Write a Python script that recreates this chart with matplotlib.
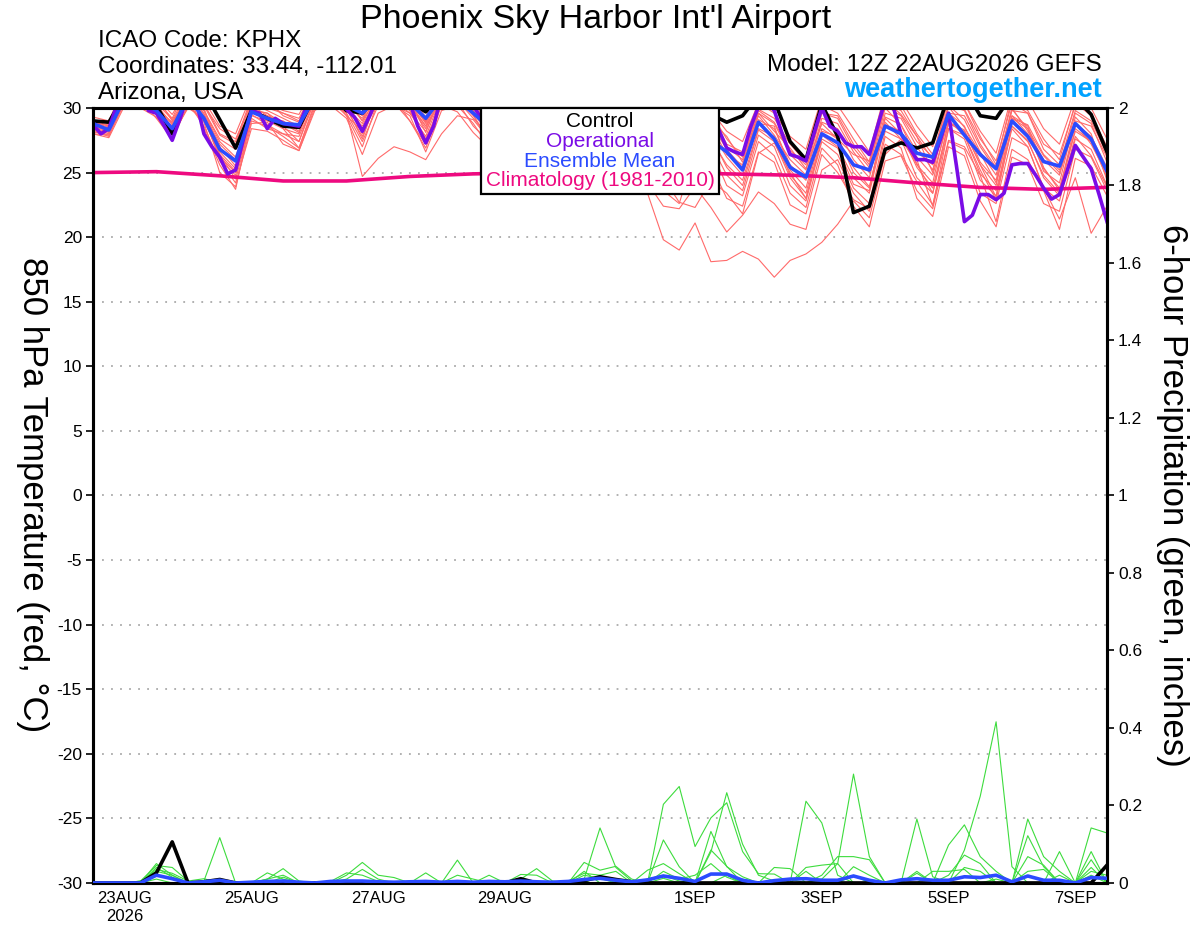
import numpy as np
import pandas as pd
import matplotlib
matplotlib.use('Agg')
import matplotlib.pyplot as plt
from matplotlib.offsetbox import AnchoredOffsetbox, TextArea, VPacker

plt.rcParams['font.family'] = ['Liberation Sans', 'DejaVu Sans']
plt.rcParams['axes.unicode_minus'] = False

# GEFS run 12Z 22AUG2026, members 6-hourly, operational 3-hourly
times6 = pd.date_range('2026-08-22 12:00', periods=65, freq='6h').to_pydatetime()
times3 = pd.date_range('2026-08-22 12:00', periods=129, freq='3h').to_pydatetime()
clim_days = pd.date_range('2026-08-22 12:00', periods=17, freq='D').to_pydatetime()

tick_days = pd.to_datetime(['2026-08-23', '2026-08-25', '2026-08-27', '2026-08-29',
                            '2026-09-01', '2026-09-03', '2026-09-05', '2026-09-07']).to_pydatetime()
tick_labels = ['23AUG\n2026', '25AUG', '27AUG', '29AUG', '1SEP', '3SEP', '5SEP', '7SEP']

# 850 hPa temperature (C)
ctl_temp = [29.0,
            28.9, 31.0, 31.0, 30.2, 28.0, 31.0, 31.3, 29.1, 26.9, 29.8, 29.2, 28.6,
            28.5, 31.0, 31.0, 29.8, 29.6, 31.0, 31.0, 30.5, 29.7, 31.0, 31.0, 30.5,
            29.5, 30.8, 29.5, 28.8, 29.0, 30.5, 29.8, 28.5, 29.0, 30.5, 29.5, 28.5,
            29.0, 30.5, 29.5, 28.9, 29.4, 31.0, 30.6, 27.4, 26.0, 30.3, 27.8, 21.9,
            22.4, 26.8, 27.3, 26.9, 27.3, 31.0, 31.5, 29.4, 29.2, 31.0, 31.5, 31.5,
            31.0, 30.8, 29.5, 26.6]
mean_temp = [28.8,
             28.3, 30.8, 30.6, 29.8, 28.4, 30.8, 29.2, 26.8, 25.9, 29.7, 29.2, 28.8,
             28.7, 30.8, 30.8, 30.2, 29.6, 30.8, 30.8, 30.4, 29.2, 30.8, 30.6, 29.6,
             28.5, 29.5, 28.8, 28.0, 28.2, 29.3, 28.6, 27.8, 28.0, 29.0, 28.3, 27.2,
             27.5, 28.8, 27.5, 26.6, 25.2, 28.9, 27.6, 25.4, 24.65, 28.0, 27.3, 25.6,
             25.2, 28.6, 28.0, 26.5, 26.2, 29.5, 27.9, 26.4, 25.3, 29.0, 27.8, 25.85,
             25.5, 28.8, 27.6, 25.1]
op_temp = [28.7, 28.0, 28.4, 30.2, 31.0, 31.2, 31.0, 29.8, 29.6, 28.6,
           27.5, 29.2, 31.0, 30.6, 28.0, 27.0, 26.2, 24.9, 25.2, 27.6,
           29.8, 29.6, 28.4, 29.2, 28.8, 28.7, 28.6, 30.2, 31.0, 31.2,
           31.0, 30.6, 29.9, 29.3, 28.2, 29.5, 31.0, 31.2, 31.0, 30.8,
           30.4, 28.6, 27.3, 28.6, 31.0, 31.2, 31.0, 30.6, 30.2, 29.2,
           28.5, 29.8, 30.8, 30.2, 29.2, 28.2, 27.2, 27.0, 27.5, 29.4,
           31.0, 30.2, 29.0, 28.2, 27.5, 27.4, 28.0, 29.8, 31.0, 30.4,
           29.5, 28.6, 27.6, 27.4, 28.0, 29.6, 30.8, 30.0, 29.0, 28.3,
           26.9, 26.6, 26.4, 28.5, 30.1, 30.5, 29.8, 28.0, 26.4, 26.2,
           25.9, 28.0, 30.0, 28.6, 28.2, 27.3, 27.0, 27.0, 26.4, 28.5,
           30.6, 30.1, 28.0, 27.0, 26.0, 26.0, 25.8, 27.6, 29.6, 25.5,
           21.2, 21.7, 23.3, 23.3, 22.9, 23.4, 25.6, 25.7, 25.7, 24.8,
           23.8, 22.95, 23.3, 25.2, 27.1, 26.2, 25.3, 23.3, 21.2]
clim_temp = [25.0, 25.07, 24.75, 24.35, 24.35, 24.7, 24.9, 25.0, 25.0,
             25.0, 24.9, 24.8, 24.6, 24.2, 23.85, 23.7, 23.86]

temp_m01 = [28.6, 28.2, 31.5, 31.0, 30.2, 28.8, 31.2, 29.5, 27.0, 25.5, 30.2, 29.4, 28.9,
            28.4, 31.0, 31.2, 30.5, 29.4, 31.5, 31.0, 30.6, 28.8, 31.3, 31.0, 30.0,
            28.5, 30.8, 29.2, 28.2, 28.0, 31.0, 30.2, 29.0, 27.8, 30.5, 29.6, 28.4,
            26.5, 30.2, 29.0, 27.8, 25.8, 29.6, 28.2, 26.9, 25.3, 28.8, 27.6, 26.4,
            25.9, 30.6, 29.5, 27.8, 25.0, 30.1, 28.5, 26.5, 24.2, 29.2, 28.4, 26.3,
            25.0, 28.8, 27.2, 24.9]
temp_m02 = [28.2, 27.8, 30.6, 30.2, 29.5, 28.0, 30.9, 28.4, 25.6, 23.7, 29.5, 28.7, 28.0,
            27.4, 30.6, 30.4, 29.6, 24.7, 26.1, 27.0, 26.6, 26.0, 28.0, 29.4, 29.1,
            27.6, 29.8, 28.5, 27.3, 27.2, 30.2, 29.1, 27.4, 26.1, 29.2, 28.0, 24.6,
            22.7, 22.3, 24.4, 23.4, 21.8, 26.5, 27.3, 25.0, 23.0, 27.6, 26.9, 24.1,
            23.6, 29.3, 28.7, 26.0, 22.4, 28.4, 27.9, 25.2, 22.9, 28.6, 27.5, 24.6,
            23.2, 27.8, 26.3, 23.9]
temp_m03 = [28.9, 28.5, 31.2, 30.8, 30.0, 28.2, 30.6, 29.8, 27.4, 26.2, 29.9, 29.6, 28.4,
            28.0, 31.2, 30.6, 29.8, 28.6, 31.0, 30.2, 29.6, 27.8, 30.9, 30.5, 28.6,
            27.4, 29.6, 28.9, 27.6, 26.8, 29.4, 28.3, 26.5, 25.2, 24.8, 23.4, 19.8,
            19.0, 21.1, 18.1, 18.2, 18.9, 18.3, 16.9, 18.2, 18.7, 19.6, 21.0, 22.8,
            21.5, 26.4, 27.6, 25.7, 23.4, 28.9, 28.3, 25.6, 23.1, 29.4, 28.0, 25.3,
            23.8, 28.2, 27.4, 24.6]
temp_m04 = [28.0, 27.9, 30.4, 30.6, 29.2, 27.6, 30.2, 29.0, 26.4, 24.5, 29.0, 28.6, 27.8,
            26.9, 30.2, 31.0, 29.4, 27.0, 30.6, 30.8, 29.0, 26.9, 30.2, 29.7, 28.1,
            26.9, 28.8, 28.2, 27.0, 26.2, 28.9, 27.6, 25.8, 24.7, 25.9, 24.2, 22.4,
            22.2, 23.9, 22.3, 20.4, 21.7, 23.5, 22.6, 21.0, 20.6, 25.2, 26.0, 23.4,
            22.0, 27.2, 26.4, 24.3, 22.5, 27.5, 27.0, 24.8, 21.2, 26.8, 26.0, 23.6,
            20.6, 26.1, 25.5, 23.2]
temp_m05 = [29.1, 28.6, 32.0, 31.5, 30.6, 29.2, 31.8, 30.4, 28.0, 27.4, 30.8, 30.2, 29.6,
            29.2, 31.6, 31.4, 30.8, 29.0, 31.8, 31.2, 30.8, 29.0, 31.6, 31.2, 30.4,
            28.8, 31.2, 30.5, 29.2, 28.6, 31.4, 30.2, 28.8, 27.6, 30.8, 29.6, 27.4,
            26.9, 30.5, 29.6, 27.6, 26.2, 29.8, 28.9, 26.7, 25.6, 29.6, 29.2, 26.9,
            25.4, 30.4, 29.8, 27.8, 26.0, 30.9, 29.9, 27.6, 25.9, 30.4, 29.6, 27.2,
            26.4, 30.2, 29.6, 26.9]
temp_m06 = [28.4, 28.0, 30.9, 30.4, 29.6, 28.6, 30.4, 28.6, 25.9, 24.2, 28.4, 28.2, 27.5,
            26.7, 29.8, 30.6, 29.9, 27.8, 30.8, 30.6, 29.6, 28.2, 31.0, 30.6, 29.2,
            27.9, 30.4, 29.4, 27.8, 27.2, 30.4, 29.0, 27.0, 26.3, 29.4, 28.4, 26.0,
            25.1, 28.9, 27.8, 25.4, 24.0, 28.3, 27.4, 24.6, 23.0, 27.9, 27.0, 24.6,
            23.4, 28.7, 28.2, 25.6, 24.2, 29.6, 28.6, 25.8, 24.4, 29.9, 28.4, 25.1,
            24.2, 29.3, 28.0, 24.4]
temp_m07 = [29.3, 29.0, 31.8, 31.4, 30.8, 29.5, 31.5, 30.6, 28.6, 28.0, 31.0, 30.4, 29.8,
            29.5, 31.8, 31.0, 30.2, 29.2, 31.4, 31.6, 30.9, 29.3, 31.9, 31.3, 30.6,
            29.2, 31.6, 30.8, 29.6, 28.9, 31.5, 30.6, 29.2, 28.4, 31.2, 30.2, 28.4,
            27.6, 30.8, 29.8, 28.2, 27.4, 30.4, 29.6, 27.8, 26.8, 30.8, 30.2, 28.4,
            26.6, 31.2, 30.6, 28.6, 27.0, 31.4, 30.4, 28.2, 26.5, 31.0, 30.6, 28.4,
            27.2, 30.8, 30.0, 27.6]
temp_m08 = [28.0, 27.7, 30.2, 30.9, 29.6, 27.9, 30.0, 29.2, 26.2, 25.0, 29.4, 29.0, 28.4,
            26.9, 30.4, 30.6, 29.4, 28.2, 30.4, 30.9, 29.8, 27.4, 30.4, 30.9, 29.5,
            27.2, 29.9, 29.2, 27.2, 26.4, 29.6, 28.4, 26.4, 25.6, 28.6, 27.2, 24.4,
            23.8, 27.9, 26.8, 24.0, 23.2, 27.4, 26.3, 23.4, 22.3, 26.9, 25.6, 22.4,
            20.8, 25.9, 26.3, 23.6, 22.2, 27.4, 26.8, 23.4, 22.6, 27.7, 27.0, 23.8,
            21.4, 24.6, 20.3, 22.4]
temp_m09 = [28.7, 28.4, 31.4, 30.2, 29.9, 28.9, 30.9, 29.8, 27.6, 26.8, 30.4, 29.8, 29.2,
            28.6, 31.2, 30.4, 30.0, 28.8, 31.2, 30.4, 30.2, 28.4, 31.2, 30.9, 30.2,
            28.6, 30.9, 30.1, 28.8, 28.0, 30.8, 29.8, 28.2, 27.2, 30.1, 29.2, 27.0,
            26.2, 29.4, 28.8, 26.8, 25.4, 29.1, 28.4, 25.6, 24.4, 28.9, 28.4, 26.0,
            24.6, 29.6, 29.2, 27.0, 25.2, 30.2, 29.1, 26.6, 24.8, 29.2, 28.7, 26.4,
            25.2, 29.6, 28.8, 25.8]
temp_m10 = [28.5, 28.1, 30.7, 31.2, 30.4, 28.4, 31.4, 30.0, 26.6, 25.3, 29.7, 29.4, 28.6,
            27.4, 30.9, 30.8, 30.4, 28.0, 31.3, 30.6, 30.4, 28.6, 30.6, 30.2, 29.8,
            28.2, 30.2, 29.6, 28.4, 27.6, 30.0, 29.4, 27.6, 26.8, 29.8, 28.8, 26.6,
            25.6, 29.2, 28.2, 26.2, 24.8, 28.8, 28.6, 25.2, 23.8, 28.4, 27.6, 25.4,
            23.9, 28.9, 27.6, 26.2, 24.8, 29.0, 27.9, 24.9, 23.6, 28.6, 27.4, 24.8,
            23.4, 28.4, 27.4, 25.1]
temp_m11 = [28.8, 28.7, 30.9, 31.6, 30.9, 29.0, 30.8, 30.2, 27.9, 27.2, 30.6, 30.6, 29.4,
            28.9, 31.4, 31.6, 30.6, 29.4, 31.6, 31.0, 30.5, 28.9, 31.4, 31.6, 30.8,
            29.0, 31.0, 30.6, 29.4, 28.2, 31.2, 30.6, 29.0, 27.8, 30.6, 29.9, 28.0,
            27.0, 30.2, 29.4, 27.2, 26.6, 29.9, 29.2, 27.2, 25.8, 30.2, 29.6, 27.6,
            25.8, 30.6, 30.2, 28.0, 26.4, 30.6, 30.4, 27.8, 25.6, 30.8, 29.8, 27.6,
            26.0, 30.4, 29.4, 27.0]
temp_m12 = [28.3, 27.9, 30.5, 30.0, 29.3, 27.7, 30.2, 28.9, 25.0, 23.9, 28.8, 28.9, 27.2,
            26.7, 30.0, 30.2, 29.2, 26.4, 29.6, 30.2, 29.4, 26.6, 29.8, 30.2, 28.8,
            27.0, 29.4, 28.6, 26.8, 26.0, 29.0, 27.8, 25.4, 24.6, 27.8, 26.6, 23.6,
            22.6, 26.6, 25.6, 23.0, 22.4, 26.6, 25.8, 22.5, 21.8, 26.4, 25.0, 22.9,
            22.2, 27.8, 26.9, 23.0, 21.6, 27.0, 26.3, 22.8, 20.8, 26.2, 25.6, 22.6,
            22.0, 26.8, 26.2, 23.6]
temp_m13 = [29.0, 28.8, 31.1, 30.6, 30.2, 28.7, 31.1, 29.6, 27.2, 26.0, 30.0, 29.2, 29.0,
            28.2, 31.0, 30.9, 30.4, 28.4, 30.6, 31.4, 30.6, 28.1, 31.2, 30.4, 29.8,
            28.3, 30.6, 30.2, 28.6, 27.5, 30.6, 29.6, 27.8, 26.9, 29.9, 29.0, 26.8,
            25.8, 29.6, 28.6, 26.4, 25.6, 29.4, 27.9, 26.0, 24.8, 29.2, 28.8, 26.6,
            25.0, 30.0, 28.7, 26.6, 25.6, 29.6, 29.4, 27.0, 25.2, 30.0, 28.2, 26.0,
            24.8, 29.0, 28.6, 26.2]
temp_m14 = [28.1, 28.3, 30.6, 31.0, 29.9, 28.5, 30.6, 29.3, 26.0, 24.8, 29.2, 28.4, 28.0,
            27.8, 30.6, 30.6, 29.6, 27.4, 30.2, 30.4, 29.0, 27.2, 30.8, 30.8, 29.4,
            27.6, 30.0, 29.0, 27.4, 26.6, 29.8, 28.8, 26.8, 25.8, 28.9, 27.8, 25.2,
            24.4, 28.2, 27.2, 24.8, 23.6, 27.9, 27.0, 24.0, 22.8, 27.4, 26.4, 23.8,
            22.6, 28.2, 27.6, 24.6, 23.4, 28.4, 27.6, 24.4, 23.2, 28.4, 27.0, 23.8,
            22.8, 27.6, 26.8, 24.0]
temp_m15 = [28.9, 28.6, 31.6, 31.0, 30.4, 29.1, 31.2, 30.2, 28.4, 27.6, 30.4, 30.0, 29.6,
            29.0, 31.6, 31.2, 30.6, 29.0, 31.0, 31.2, 30.2, 28.6, 31.4, 31.0, 30.0,
            28.9, 31.0, 30.2, 29.0, 28.4, 31.0, 30.2, 28.6, 27.4, 30.4, 29.6, 27.6,
            26.6, 30.0, 29.2, 27.0, 26.0, 29.6, 28.8, 26.4, 25.2, 29.6, 29.4, 27.2,
            25.6, 30.2, 29.4, 27.4, 26.2, 30.2, 29.8, 27.2, 25.4, 29.8, 29.6, 26.8,
            25.6, 29.8, 29.0, 26.4]
temp_m16 = [28.6, 28.2, 31.0, 30.4, 29.8, 28.3, 30.7, 29.4, 26.4, 25.1, 29.8, 29.6, 28.8,
            28.1, 30.8, 31.2, 30.0, 27.6, 31.0, 30.8, 29.8, 27.6, 30.4, 30.6, 29.6,
            28.0, 30.6, 29.8, 28.0, 27.0, 30.2, 29.2, 27.2, 26.2, 29.6, 28.4, 25.8,
            24.9, 29.0, 27.6, 25.6, 24.4, 28.4, 27.8, 24.8, 23.4, 28.2, 27.8, 25.0,
            23.8, 29.2, 28.0, 25.4, 23.8, 28.8, 28.2, 25.6, 24.0, 29.4, 28.6, 25.4,
            23.6, 28.8, 27.8, 25.4]

# 6-hour precipitation (inches)
ctl_precip = [0,
              0, 0, 0, 0.026, 0.106, 0, 0.003, 0.009, 0, 0, 0, 0,
              0, 0, 0, 0, 0, 0, 0, 0, 0, 0, 0, 0,
              0, 0, 0.011, 0, 0, 0, 0.006, 0.016, 0.009, 0.003, 0, 0,
              0, 0, 0, 0, 0, 0, 0, 0, 0, 0, 0, 0,
              0, 0, 0, 0, 0, 0, 0, 0, 0, 0, 0, 0,
              0, 0, 0, 0.046]
mean_precip = [0,
               0, 0, 0, 0.02, 0.011, 0, 0.003, 0.007, 0, 0.002, 0.004, 0.005,
               0.002, 0, 0.004, 0.005, 0.005, 0.003, 0.002, 0.003, 0.004, 0.002, 0.004, 0.002,
               0.004, 0.003, 0.005, 0.003, 0.002, 0.004, 0.009, 0.012, 0.007, 0.003, 0.008, 0.018,
               0.012, 0.004, 0.023, 0.023, 0.007, 0, 0.006, 0.01, 0.011, 0.007, 0.007, 0.018,
               0.007, 0, 0.008, 0.011, 0.007, 0.007, 0.016, 0.014, 0.02, 0.003, 0.018, 0.007,
               0.007, 0, 0.014, 0.012]
precip_g1 = [0,
             0, 0, 0, 0.05, 0.02, 0, 0.005, 0.117, 0, 0, 0, 0,
             0, 0, 0, 0, 0, 0, 0, 0, 0, 0, 0, 0,
             0, 0, 0, 0, 0, 0, 0.01, 0.142, 0.04, 0.005, 0, 0.203,
             0.249, 0.094, 0.168, 0.207, 0.081, 0.024, 0.023, 0, 0, 0.01, 0.05, 0.281,
             0.068, 0, 0, 0, 0, 0, 0.085, 0.224, 0.416, 0.042, 0, 0,
             0.081, 0, 0.142, 0.129]
precip_g2 = [0,
             0, 0, 0.005, 0.045, 0.04, 0.005, 0.011, 0, 0, 0, 0.01, 0.037,
             0.005, 0, 0, 0, 0, 0, 0, 0, 0, 0, 0.059, 0,
             0, 0, 0, 0, 0, 0, 0.053, 0.033, 0.043, 0.01, 0, 0.111,
             0.042, 0, 0.133, 0.042, 0.016, 0, 0, 0, 0.211, 0.155, 0.02, 0,
             0, 0, 0, 0.165, 0.016, 0, 0, 0, 0, 0, 0.165, 0.068,
             0.03, 0, 0, 0]
precip_g3 = [0,
             0, 0, 0, 0.04, 0.015, 0, 0, 0, 0, 0, 0.026, 0.01,
             0, 0, 0.004, 0.026, 0.02, 0.004, 0, 0, 0, 0, 0, 0,
             0, 0, 0.01, 0.037, 0.005, 0, 0, 0, 0, 0, 0.01, 0.02,
             0.005, 0, 0.08, 0.233, 0.1, 0.02, 0.005, 0, 0, 0.02, 0.068, 0.068,
             0.06, 0, 0, 0, 0, 0.098, 0.15, 0.068, 0.03, 0, 0.122, 0.042,
             0, 0, 0.081, 0]
precip_g4 = [0.003,
             0, 0, 0.005, 0.03, 0.02, 0, 0, 0, 0, 0, 0.01, 0.02,
             0, 0, 0, 0.01, 0.035, 0.01, 0, 0, 0.026, 0, 0, 0,
             0.02, 0, 0, 0, 0, 0, 0.02, 0.012, 0, 0, 0.033, 0.05,
             0.024, 0, 0.085, 0.043, 0, 0, 0, 0, 0.04, 0.046, 0.05, 0,
             0, 0, 0, 0.03, 0, 0.02, 0.072, 0.05, 0, 0, 0.068, 0.046,
             0, 0, 0.04, 0]
precip_g5 = [0,
             0, 0, 0, 0.02, 0.01, 0, 0, 0, 0, 0, 0, 0,
             0, 0, 0, 0.02, 0.053, 0.02, 0.014, 0, 0, 0, 0, 0,
             0, 0, 0.022, 0.02, 0, 0, 0.03, 0, 0, 0, 0, 0.012,
             0, 0, 0, 0.02, 0, 0, 0.04, 0.037, 0, 0, 0, 0.042,
             0.02, 0, 0, 0, 0.03, 0.03, 0.035, 0, 0, 0, 0, 0,
             0.02, 0, 0.02, 0]
precip_g6 = [0,
             0, 0, 0, 0.01, 0, 0, 0, 0.01, 0, 0, 0, 0.015,
             0, 0, 0, 0, 0, 0, 0, 0.005, 0, 0, 0.02, 0.01,
             0, 0, 0, 0, 0, 0, 0, 0.02, 0.03, 0, 0, 0.03,
             0.01, 0.02, 0.05, 0.015, 0, 0, 0, 0, 0.03, 0, 0, 0,
             0, 0, 0, 0.025, 0, 0, 0.04, 0.03, 0, 0, 0.03, 0.035,
             0, 0, 0.03, 0.02]
precip_g7 = [0,
             0, 0, 0.002, 0.035, 0.025, 0.005, 0, 0, 0, 0, 0, 0,
             0, 0, 0, 0, 0, 0, 0, 0, 0, 0, 0, 0,
             0, 0, 0, 0, 0, 0.005, 0.025, 0.02, 0, 0, 0, 0,
             0, 0, 0, 0, 0.01, 0, 0, 0.01, 0, 0, 0, 0.02,
             0, 0, 0, 0, 0, 0, 0, 0, 0.01, 0, 0, 0,
             0, 0, 0.06, 0]

temp_members = [temp_m01, temp_m02, temp_m03, temp_m04, temp_m05, temp_m06, temp_m07, temp_m08,
                temp_m09, temp_m10, temp_m11, temp_m12, temp_m13, temp_m14, temp_m15, temp_m16]
precip_members = [precip_g1, precip_g2, precip_g3, precip_g4, precip_g5, precip_g6, precip_g7]

legend_labels = ['Control', 'Operational', 'Ensemble Mean', 'Climatology (1981-2010)']
c_red = '#ff6a6a'
c_green = '#3ddc3d'
c_ctl = 'black'
c_op = '#7a0ce6'
c_mean = '#2b4bff'
c_clim = '#ee0a80'
legend_colors = [c_ctl, c_op, c_mean, c_clim]

fig = plt.figure(figsize=(12, 9.27), dpi=100)
ax = fig.add_axes([0.0775, 0.0475, 0.845, 0.836])
ax2 = ax.twinx()

for m in temp_members:
    ax.plot(times6, m, color=c_red, lw=0.8, zorder=2)
ax.plot(clim_days, clim_temp, color=c_clim, lw=2.6, zorder=3)
ax.plot(times6, ctl_temp, color=c_ctl, lw=2.6, zorder=4)
ax.plot(times3, op_temp, color=c_op, lw=2.6, zorder=5)
ax.plot(times6, mean_temp, color=c_mean, lw=2.6, zorder=6)

for g in precip_members:
    ax2.plot(times6, g, color=c_green, lw=0.8, zorder=2)
ax2.plot(times6, ctl_precip, color=c_ctl, lw=2.6, zorder=3)
ax2.plot(times6, mean_precip, color=c_mean, lw=2.6, zorder=4)

ax.set_xlim(times6[0], times6[-1])
ax.set_ylim(-30, 30)
ax2.set_ylim(0, 2)
ax.set_yticks(np.arange(-30, 31, 5))
ax2.set_yticks(np.arange(0, 2.01, 0.2))
ax2.set_yticklabels(['0', '0.2', '0.4', '0.6', '0.8', '1', '1.2', '1.4', '1.6', '1.8', '2'])
ax.set_xticks(tick_days)
ax.set_xticklabels(tick_labels)

ax.grid(axis='y', color='#aaaaaa', linestyle=(0, (1, 4)), lw=1.3)
ax.tick_params(axis='y', labelsize=12.5, length=5, width=1.2, pad=3)
ax2.tick_params(axis='y', labelsize=12.5, length=5, width=1.2, pad=3)
ax.tick_params(axis='x', labelsize=12, length=0, pad=6)
for a in (ax, ax2):
    for sp in a.spines.values():
        sp.set_linewidth(2.2)

# text-only legend box
entries = [TextArea(lab, textprops=dict(color=c, fontsize=15))
           for lab, c in zip(legend_labels, legend_colors)]
box = VPacker(children=entries, align='center', pad=0, sep=0.5)
leg = AnchoredOffsetbox(loc='upper center', child=box, pad=0.2, borderpad=0,
                        frameon=True, bbox_to_anchor=(0.5, 1.0),
                        bbox_transform=ax2.transAxes, prop=dict(size=15))
leg.patch.set_edgecolor('black')
leg.patch.set_linewidth(1.6)
leg.set_zorder(10)
ax2.add_artist(leg)

fig.text(0.496, 0.979, "Phoenix Sky Harbor Int'l Airport", ha='center', va='center', fontsize=24.5)
fig.text(0.0817, 0.956, 'ICAO Code: KPHX', ha='left', va='center', fontsize=17.5)
fig.text(0.0817, 0.928, 'Coordinates: 33.44, -112.01', ha='left', va='center', fontsize=17.5)
fig.text(0.0817, 0.900, 'Arizona, USA', ha='left', va='center', fontsize=17.5)
fig.text(0.918, 0.930, 'Model: 12Z 22AUG2026 GEFS', ha='right', va='center', fontsize=17.5)
fig.text(0.918, 0.903, 'weathertogether.net', ha='right', va='center', fontsize=19.5,
         weight='bold', color='#00a2ff')
fig.text(0.027, 0.466, '850 hPa Temperature (red, °C)', ha='center', va='center',
         rotation=-90, fontsize=25)
fig.text(0.977, 0.466, '6-hour Precipitation (green, inches)', ha='center', va='center',
         rotation=-90, fontsize=25)

fig.savefig('out.png', dpi=100)
